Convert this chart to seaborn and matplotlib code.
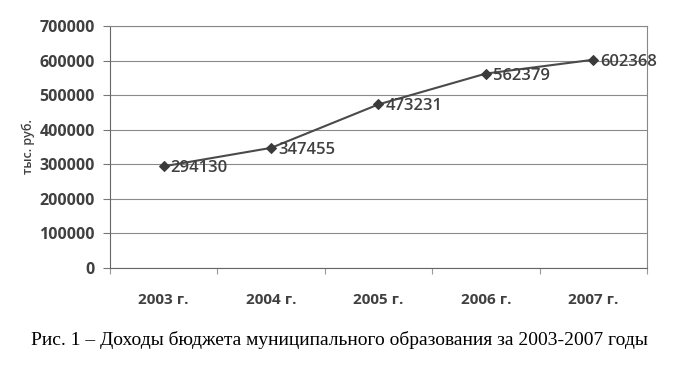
import matplotlib
matplotlib.use("Agg")
import matplotlib.pyplot as plt
import seaborn as sns
import pandas as pd

years = ["2003 г.", "2004 г.", "2005 г.", "2006 г.", "2007 г."]
values = [294130, 347455, 473231, 562379, 602368]
y_ticks = [0, 100000, 200000, 300000, 400000, 500000, 600000, 700000]
y_label = "тыс. руб."
caption = "Рис. 1 – Доходы бюджета муниципального образования за 2003-2007 годы"

sns.set_theme(style="white")
plt.rcParams['font.family'] = ['Open Sans', 'DejaVu Sans']

df = pd.DataFrame({"year": years, "value": values})

fig = plt.figure(figsize=(6.78, 3.74), dpi=100)
ax = fig.add_axes([0.1622, 0.2834, 0.9543 - 0.1622, 0.9305 - 0.2834])

tc = "#404040"
sns.lineplot(data=df, x="year", y="value", ax=ax, color="#4a4a4a", linewidth=1.5,
             marker="D", markersize=5.5, markeredgecolor="#3a3a3a", markerfacecolor="#3a3a3a")

for i, v in enumerate(values):
    ax.annotate(str(v), (i, v), xytext=(5, -1.5), textcoords="offset points",
                ha="left", va="center", fontsize=12, color=tc, fontweight="semibold")

ax.set_xlim(-0.5, 4.5)
ax.set_ylim(0, 700000)
ax.set_yticks(y_ticks)
ax.set_yticklabels([str(t) for t in y_ticks], fontsize=11.5, color=tc, fontweight="bold")
ax.set_xticks(range(len(years)))
ax.set_xticklabels(years, fontsize=11, color=tc, fontweight="bold")
ax.tick_params(axis="x", length=0, pad=18)
ax.tick_params(axis="y", length=5, width=0.8, color="#777777", left=True, pad=6)
ax.set_xticks([i + 0.5 for i in range(-1, len(years))], minor=True)
ax.tick_params(axis="x", which="minor", length=4, width=0.8, color="#999999", bottom=True)
ax.grid(axis="y", color="#8a8a8a", linewidth=0.8)
ax.set_axisbelow(True)
for side, sp in ax.spines.items():
    sp.set_visible(True)
    sp.set_color("#888888")
    sp.set_linewidth(0.8)
ax.spines["left"].set_color("#666666")
ax.spines["bottom"].set_color("#666666")
ax.set_xlabel("")
ax.set_ylabel(y_label, fontsize=9, color=tc, labelpad=3, fontweight="semibold")

fig.text(0.5, 0.09, caption, ha="center", va="center", fontsize=14,
         family="Liberation Serif", color="black")

fig.savefig("out.png", dpi=100)
